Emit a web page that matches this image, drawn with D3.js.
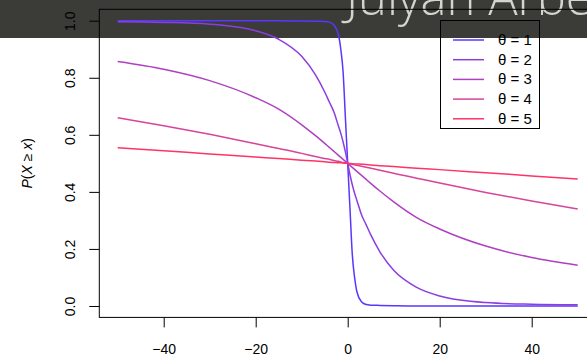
<!DOCTYPE html>
<meta charset="utf-8">
<style>
body { margin: 0; background: #fff; }
svg { display: block; }
.curve { fill: none; stroke-width: 1.5px; }
.axis text { font: 14px "Liberation Sans", Arial, sans-serif; fill: #000; }
.axis line { stroke: #000; }
</style>
<body>
<div id="plotHere"></div>
<script src="https://cdn.jsdelivr.net/npm/d3@7"></script>
<script>
//------------------------1. DATA------------------------//

// x grid the curves were read at (denser around 0 for the steep one)
const xs = [-50,-40,-30,-20,-15,-10,-7,-5,-4,-3,-2,-1.5,-1,-0.5,0,0.5,1,1.5,2,3,4,5,7,10,15,20,30,40,50];

// P(X >= x) for each theta
const theta1 = [1,1,1,1,1,0.999,0.998,0.997,0.995,0.985,0.95,0.9,0.82,0.66,0.5,0.34,0.18,0.1,0.05,0.015,0.005,0.003,0.002,0.001,0,0,0,0,0];
const theta2 = [0.996,0.994,0.988,0.965,0.935,0.875,0.81,0.75,0.715,0.68,0.63,0.605,0.575,0.54,0.5,0.46,0.425,0.395,0.37,0.32,0.285,0.25,0.19,0.125,0.065,0.035,0.012,0.006,0.004];
const theta3 = [0.857,0.83,0.79,0.73,0.69,0.635,0.597,0.57,0.556,0.542,0.528,0.521,0.514,0.507,0.5,0.493,0.486,0.479,0.472,0.458,0.444,0.43,0.403,0.365,0.31,0.27,0.21,0.17,0.143];
const theta4 = [0.66,0.632,0.602,0.569,0.552,0.535,0.524,0.517,0.514,0.51,0.507,0.505,0.503,0.502,0.5,0.498,0.497,0.495,0.493,0.49,0.486,0.483,0.476,0.465,0.448,0.431,0.398,0.368,0.34];
const theta5 = [0.555,0.544,0.533,0.522,0.517,0.511,0.508,0.506,0.504,0.503,0.502,0.502,0.501,0.5005,0.5,0.4995,0.499,0.498,0.498,0.497,0.496,0.494,0.492,0.489,0.483,0.478,0.467,0.456,0.445];

const labels = ["1", "2", "3", "4", "5"];
const colors = ["#5a36ff", "#8b3ee0", "#b040c2", "#d8449a", "#ff3366"];

const xTicks = [-40, -20, 0, 20, 40];
const yTicks = [0, 0.2, 0.4, 0.6, 0.8, 1.0];

//------------------------2. SVG------------------------//

var width = 587, height = 356;

var svg = d3.select("#plotHere").append("svg")
    .attr("width", width)
    .attr("height", height);

// dark header band of the slide sits behind the figure
svg.append("rect")
    .attr("x", 0).attr("y", 0)
    .attr("width", width).attr("height", 38)
    .attr("fill", "#3b3b37");
svg.append("text")
    .attr("x", 346).attr("y", 15)
    .style("font", "300 49px 'Open Sans', sans-serif")
    .attr("fill", "#d4d4d0")
    .text("Julyan Arbel");

// the plot region runs past the right edge of the window (cropped)
var x = d3.scaleLinear().domain([-54, 54]).range([99.3, 596.1]);
var y = d3.scaleLinear().domain([-0.04, 1.04]).range([317.4, 9.3]);

//------------------------ AXES ------------------------//

svg.append("g")
    .attr("class", "axis")
    .attr("transform", "translate(0," + y(-0.04) + ")")
    .call(d3.axisBottom(x).tickValues(xTicks).tickSize(10).tickPadding(16.5))
    .call(g => g.select(".domain").remove());

var yAxis = svg.append("g")
    .attr("class", "axis")
    .attr("transform", "translate(" + x(-54) + ",0)")
    .call(d3.axisLeft(y).tickValues(yTicks).tickSize(10).tickFormat(d3.format(".1f")))
    .call(g => g.select(".domain").remove());

// R draws y labels parallel to the axis
yAxis.selectAll(".tick text")
    .attr("x", null)
    .attr("dy", null)
    .attr("text-anchor", "middle")
    .attr("transform", "translate(-24,0) rotate(-90)");

// box
svg.append("rect")
    .attr("x", x(-54)).attr("y", y(1.04))
    .attr("width", x(54) - x(-54))
    .attr("height", y(-0.04) - y(1.04))
    .attr("fill", "none")
    .attr("stroke", "#000");

// y label  P(X >= x)
var ylab = svg.append("text")
    .attr("transform", "translate(32," + ((y(-0.04) + y(1.04)) / 2) + ") rotate(-90)")
    .attr("text-anchor", "middle")
    .style("font", "14px 'Liberation Sans', Arial, sans-serif");
ylab.append("tspan").style("font-style", "italic").text("P");
ylab.append("tspan").text("(");
ylab.append("tspan").style("font-style", "italic").text("X");
ylab.append("tspan").text(" \u2265 ");
ylab.append("tspan").style("font-style", "italic").text("x");
ylab.append("tspan").text(")");

//------------------------ LINES ------------------------//

var series = [theta1, theta2, theta3, theta4, theta5];

var line = d3.line()
    .x(function(d) { return x(d[0]); })
    .y(function(d) { return y(d[1]); })
    .curve(d3.curveMonotoneX);

series.forEach(function(vals, i) {
  svg.append("path")
      .datum(xs.map(function(v, j) { return [v, vals[j]]; }))
      .attr("class", "curve")
      .attr("stroke", colors[i])
      .attr("d", line);
});

//------------------------ LEGEND ------------------------//

var legend = svg.append("g");
legend.append("rect")
    .attr("x", 440.5).attr("y", 20.5)
    .attr("width", 99).attr("height", 108)
    .attr("fill", "none")
    .attr("stroke", "#000");

labels.forEach(function(lab, i) {
  var ly = 40 + i * 19.7;
  legend.append("line")
      .attr("x1", 453).attr("x2", 484)
      .attr("y1", ly).attr("y2", ly)
      .attr("stroke", colors[i])
      .attr("stroke-width", 1.5);
  legend.append("text")
      .attr("x", 498).attr("y", ly + 5)
      .style("font", "15px 'Liberation Sans', Arial, sans-serif")
      .text("\u03b8 = " + lab);
});
</script>
</body>
